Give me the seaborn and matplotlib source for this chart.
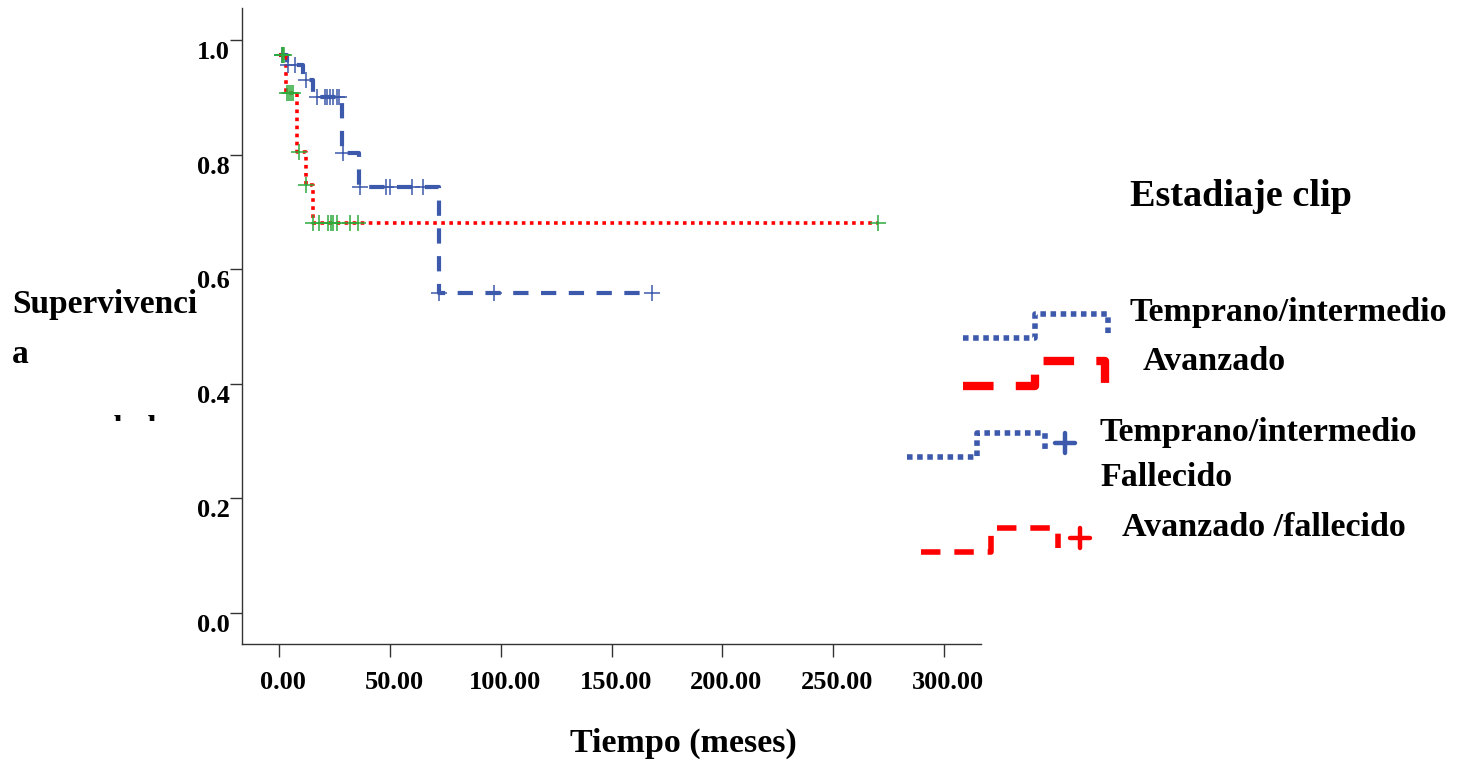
import matplotlib
matplotlib.use("Agg")
import matplotlib.pyplot as plt
import matplotlib.transforms as mtransforms
from matplotlib.lines import Line2D
from matplotlib.patches import Rectangle
import numpy as np
import seaborn as sns

# Kaplan-Meier step data (time in months, survival)
tp_times = [0.0, 3.5, 10.8, 15.0, 28.2, 36.1, 72.2, 168.0]
tp_surv = [0.974, 0.956, 0.930, 0.901, 0.802, 0.744, 0.558, 0.558]
tp_censored = [1.0, 4.0, 7.0, 12.0, 16.9, 20.7, 21.7, 22.9, 24.4, 25.9, 26.9,
               28.6, 36.2, 48.2, 50.0, 60.0, 65.0, 72.3, 96.9, 168.0]

adv_times = [0.0, 3.0, 8.1, 12.0, 15.1, 270.2]
adv_surv = [0.974, 0.907, 0.805, 0.747, 0.680, 0.680]
adv_censored = [1.0, 1.5, 2.0, 3.3, 4.4, 5.3, 6.3, 9.0, 12.2, 15.3, 18.1, 22.1,
                23.2, 24.1, 25.9, 31.9, 35.7, 270.2]

x_ticks = [0, 50, 100, 150, 200, 250, 300]
x_ticklabels = ["0.00", "50.00", "100.00", "150.00", "200.00", "250.00", "300.00"]
y_ticks = [0.0, 0.2, 0.4, 0.6, 0.8, 1.0]
y_ticklabels = ["0.0", "0.2", "0.4", "0.6", "0.8", "1.0"]

legend_title = "Estadiaje clip"
legend_labels = ["Temprano/intermedio", "Avanzado", "Temprano/intermedio\nFallecido",
                 "Avanzado /fallecido"]

BLUE = "#3D59AB"
RED = "#FF0000"
GREEN = "#2EAA3A"

sns.set_style("white")
plt.rcParams["font.family"] = ["Liberation Serif", "DejaVu Serif"]
plt.rcParams["font.weight"] = "bold"
plt.rcParams["text.color"] = "black"
plt.rcParams["xtick.color"] = "black"
plt.rcParams["ytick.color"] = "black"
plt.rcParams["lines.scale_dashes"] = False

W, H = 1469, 767
fig = plt.figure(figsize=(W / 100, H / 100), dpi=100)


def px(x, y):
    return x / W, 1 - y / H


x0, y0 = px(242.3, 644)
x1, y1 = px(981, 8)
ax = fig.add_axes([x0, y0, x1 - x0, y1 - y0])


def step_value(times, surv, t):
    idx = np.searchsorted(times, t, side="right") - 1
    return surv[max(idx, 0)]


sns.lineplot(x=tp_times, y=tp_surv, ax=ax, drawstyle="steps-post", color=BLUE,
             linewidth=3.0, linestyle=(0, (11, 9)), errorbar=None)
sns.lineplot(x=adv_times, y=adv_surv, ax=ax, drawstyle="steps-post", color=RED,
             linewidth=2.6, linestyle=(0, (2.6, 3.2)), errorbar=None)

tp_cy = [step_value(tp_times, tp_surv, t) for t in tp_censored]
adv_cy = [step_value(adv_times, adv_surv, t) for t in adv_censored]
sns.scatterplot(x=tp_censored, y=tp_cy, ax=ax, marker="+", s=120, color=BLUE,
                linewidth=1.1, zorder=4)
sns.scatterplot(x=adv_censored, y=adv_cy, ax=ax, marker="+", s=120, color=GREEN,
                linewidth=1.1, zorder=5)

ax.set_xlim(-16.7, 316.7)
ax.set_ylim(-0.0547, 1.056)
ax.set_xticks(x_ticks)
ax.set_xticklabels(x_ticklabels, fontsize=19, fontweight="bold", color="black")
ax.set_yticks(y_ticks)
ax.set_yticklabels(y_ticklabels, fontsize=19, fontweight="bold", color="black")
ax.tick_params(axis="y", left=True, direction="out", length=9, width=1.0,
               color="#333333", pad=0)
ax.tick_params(axis="x", bottom=True, direction="out", length=9.5, width=1.0,
               color="#333333", pad=10)
for s in ["top", "right"]:
    ax.spines[s].set_visible(False)
for s in ["left", "bottom"]:
    ax.spines[s].set_color("#333333")
    ax.spines[s].set_linewidth(1.0)
ax.set_xlabel("")
ax.set_ylabel("")

for lab in ax.get_yticklabels():
    lab.set_transform(lab.get_transform() +
                      mtransforms.ScaledTranslation(0, -10 / 100, fig.dpi_scale_trans))
for lab in ax.get_xticklabels():
    lab.set_transform(lab.get_transform() +
                      mtransforms.ScaledTranslation(4 / 100, 0, fig.dpi_scale_trans))

# axis titles
fig.text(*px(683, 743), "Tiempo (meses)", ha="center", va="center", fontsize=24.5,
         fontweight="bold")
fig.text(*px(12, 313), "Supervivenci", ha="left", va="baseline", fontsize=24,
         fontweight="bold")
fig.text(*px(12, 363), "a", ha="left", va="baseline", fontsize=24, fontweight="bold")
cut = fig.text(*px(21, 437), "acumulada", ha="left", va="baseline", fontsize=23,
               fontweight="bold")
clip_rect = Rectangle((0, 1 - 421 / H), 0.2, 421 / H, transform=fig.transFigure)
cut.set_clip_path(clip_rect)

# legend block
fig.text(*px(1130, 197), legend_title, ha="left", va="center", fontsize=27.5,
         fontweight="bold")


def glyph(points, color, lw, ls):
    xs = [px(a, b)[0] for a, b in points]
    ys = [px(a, b)[1] for a, b in points]
    fig.add_artist(Line2D(xs, ys, color=color, linewidth=lw, linestyle=ls,
                          dash_capstyle="butt", solid_capstyle="butt",
                          transform=fig.transFigure))


def plus(x, y, color, size=20, lw=3.2):
    fig.add_artist(Line2D([px(x - size / 2, y)[0], px(x + size / 2, y)[0]],
                          [px(x, y)[1]] * 2, color=color, linewidth=lw,
                          transform=fig.transFigure))
    fig.add_artist(Line2D([px(x, y)[0]] * 2,
                          [px(x, y - size / 2)[1], px(x, y + size / 2)[1]],
                          color=color, linewidth=lw, transform=fig.transFigure))


glyph([(963, 338), (1035, 338), (1035, 314), (1108, 314), (1108, 334)],
      BLUE, 4.0, (0, (4, 3.3)))
glyph([(963, 386), (1035, 386), (1035, 361), (1105, 361), (1105, 386)],
      RED, 6.0, (0, (22, 16)))
glyph([(907, 457), (977, 457), (977, 433), (1045, 433), (1045, 452)],
      BLUE, 4.0, (0, (4, 3.3)))
plus(1065, 443, BLUE)
glyph([(921, 552), (991, 552), (991, 528), (1058, 528), (1058, 548)],
      RED, 4.0, (0, (14, 10)))
plus(1080, 538, RED)

fs_leg = 24.5
fig.text(*px(1130, 313), legend_labels[0], ha="left", va="center", fontsize=fs_leg,
         fontweight="bold")
fig.text(*px(1143, 362), legend_labels[1], ha="left", va="center", fontsize=fs_leg,
         fontweight="bold")
fig.text(*px(1100, 433), "Temprano/intermedio", ha="left", va="center", fontsize=fs_leg,
         fontweight="bold")
fig.text(*px(1100, 478), "Fallecido", ha="left", va="center", fontsize=fs_leg,
         fontweight="bold")
fig.text(*px(1122, 528), legend_labels[3], ha="left", va="center", fontsize=fs_leg,
         fontweight="bold")

fig.savefig("out.png", dpi=100)
